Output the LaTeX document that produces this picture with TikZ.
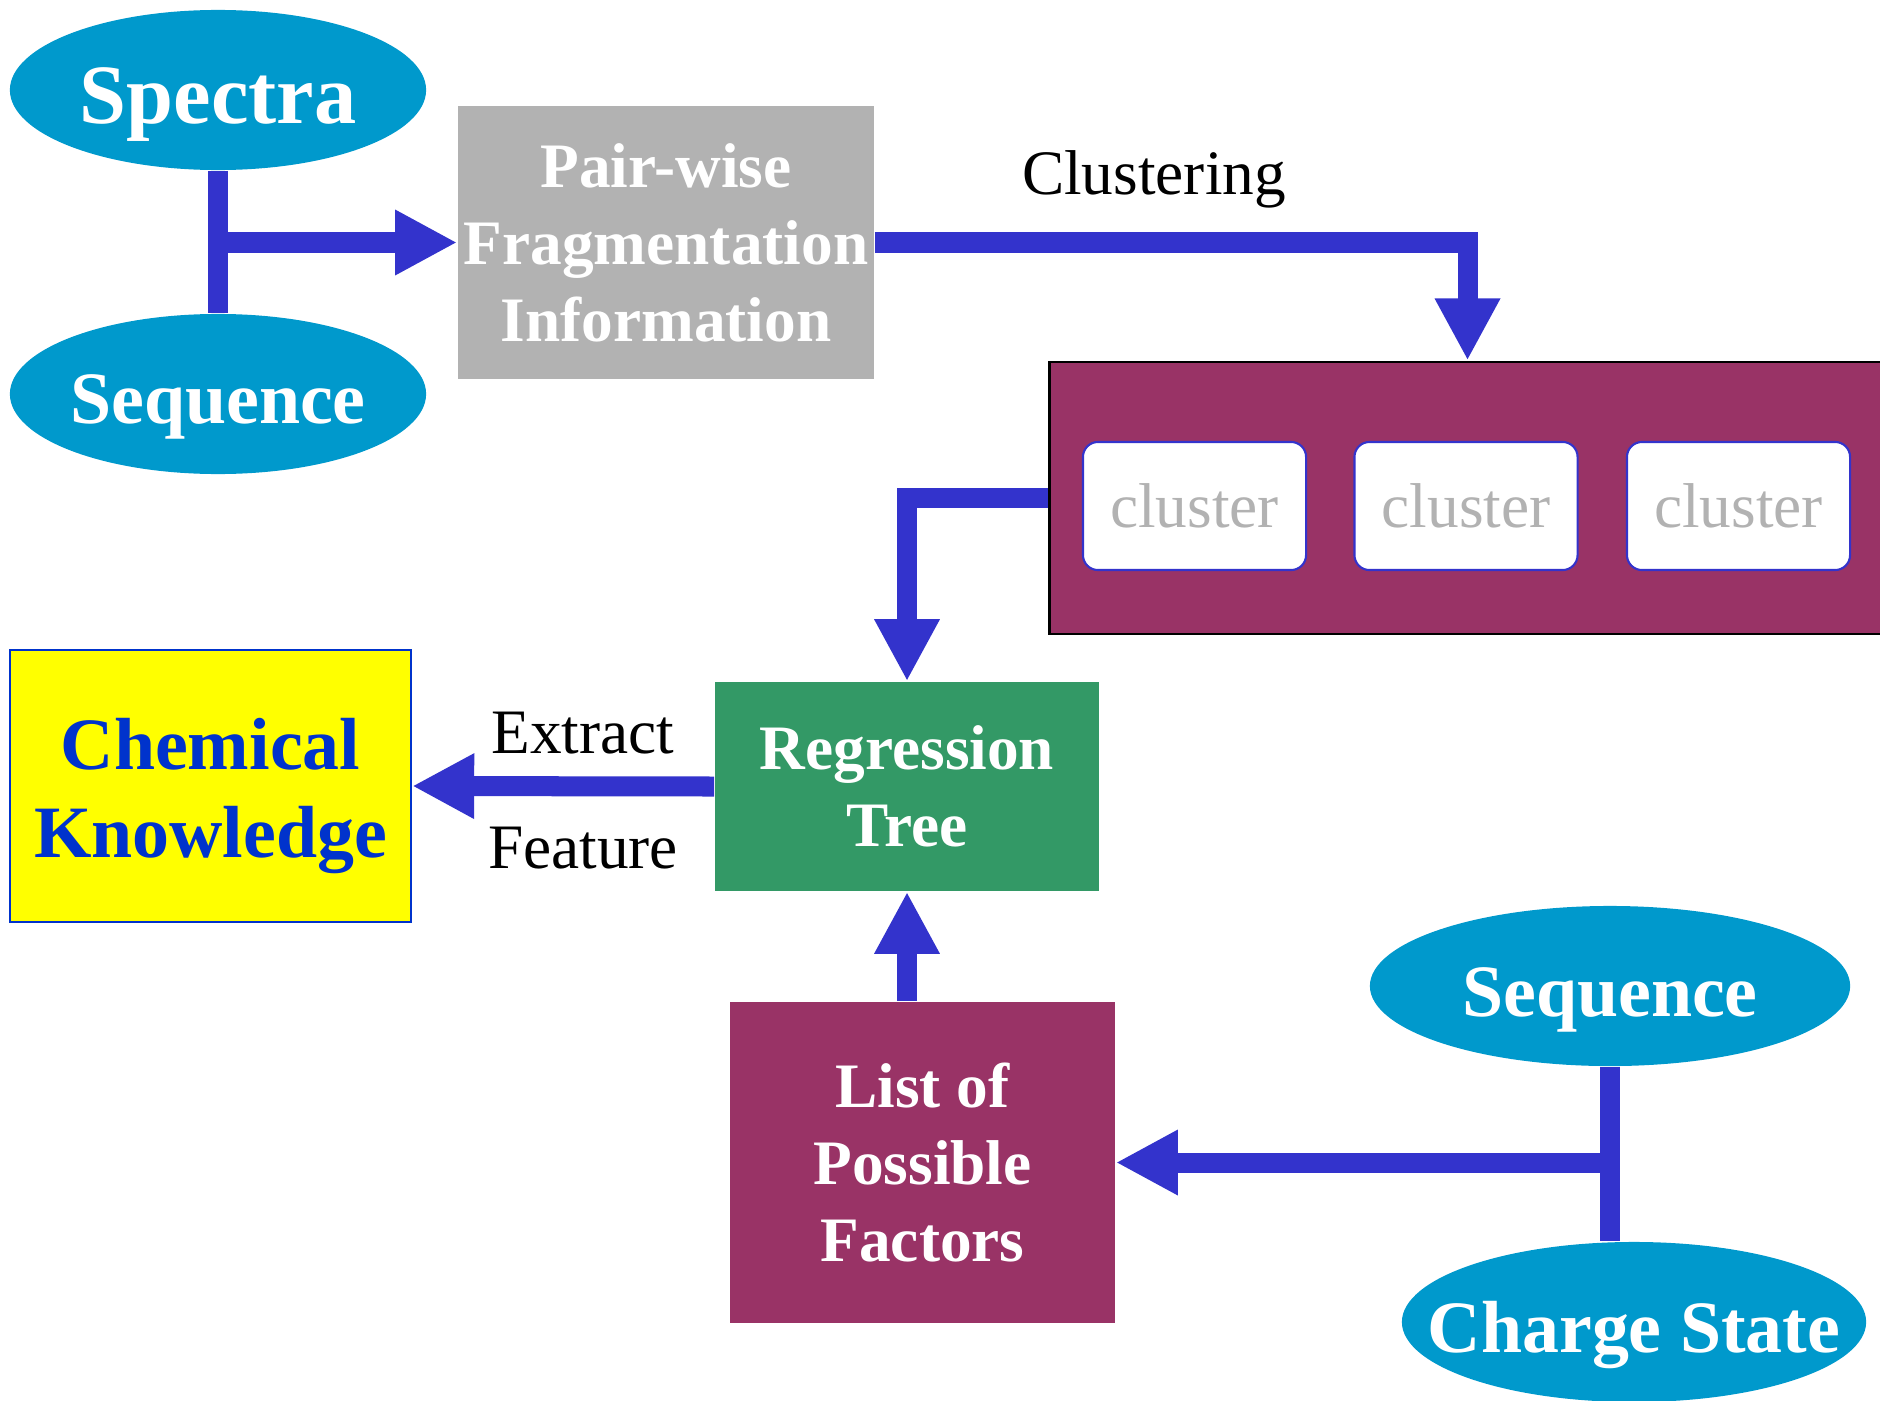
\documentclass[tikz,border=0pt]{standalone}
\usepackage{fontspec}
\setmainfont{Liberation Serif}
\usetikzlibrary{arrows.meta, shapes.geometric}

% Text of fixed zero width, so the ellipse keeps its given size
\newcommand{\flatText}[1]{\makebox[0pt]{#1}}

\begin{document}
\begin{tikzpicture}[x=0.01cm, y=-0.01cm,
    inputEllipse/.style={ellipse, fill=ellipseColour, text=white, inner sep=0pt,
        minimum height=1.6cm, text height=0.6cm, text depth=0cm,
        font=\bfseries\fontsize{21}{24}\selectfont},
    stepBox/.style={rectangle, inner sep=0pt, align=center, text=white,
        font=\bfseries\fontsize{18}{21.9}\selectfont},
    clusterBox/.style={rectangle, rounded corners=0.15cm, fill=white, draw=arrowColour,
        line width=0.6pt, minimum width=2.23cm, minimum height=1.28cm, text=greyColour,
        font=\fontsize{18}{21.9}\selectfont},
    flowLine/.style={draw=arrowColour, line width=0.2cm},
    flowArrow/.style={flowLine, -{Triangle[length=0.62cm, width=0.61cm]}},
    edgeLabel/.style={anchor=base, font=\fontsize{18}{21.9}\selectfont}]

    % Define colours
    \definecolor{arrowColour}{HTML}{3333CC}
    \definecolor{ellipseColour}{HTML}{0099CC}
    \definecolor{greyColour}{HTML}{B2B2B2}
    \definecolor{plumColour}{HTML}{993366}
    \definecolor{greenColour}{HTML}{339966}
    \definecolor{knowColour}{HTML}{0033CC}
    \definecolor{yellowColour}{HTML}{FFFF00}

    \useasboundingbox (0,0) rectangle (1880,1400);

    % Inputs on the top left
    \node[inputEllipse, minimum width=4.16cm, text height=0.66cm,
        font=\bfseries\fontsize{24}{28}\selectfont] (spectra) at (218,90) {\flatText{Spectra}};
    \node[inputEllipse, minimum width=4.16cm, text height=0.58cm] (sequenceTop) at (218,394) {\flatText{Sequence}};

    % Pair-wise information
    \node[stepBox, fill=greyColour, minimum width=4.16cm, minimum height=2.73cm] (pairwise) at (666,242.5)
        {Pair-wise\\Fragmentation\\Information};

    % Frame holding the clusters
    \node[rectangle, fill=plumColour, draw=black, line width=0.8pt, minimum width=8.35cm,
        minimum height=2.72cm] (clusterFrame) at (1467.5,498) {};
    \node[clusterBox] (clusterA) at (1194.5,506) {cluster};
    \node[clusterBox] (clusterB) at (1466,506) {cluster};
    \node[clusterBox] (clusterC) at (1738.5,506) {cluster};

    % Regression tree and knowledge
    \node[stepBox, fill=greenColour, minimum width=3.84cm, minimum height=2.09cm] (regression) at (907,786.5)
        {Regression\\Tree};
    \node[rectangle, fill=yellowColour, draw=knowColour, line width=0.6pt,
        minimum width=4.01cm, minimum height=2.72cm,
        label={[yshift=-0.1cm, align=center, text=knowColour,
            font=\bfseries\fontsize{21}{25}\selectfont]center:Chemical\\Knowledge}] (chemical) at (210.5,786) {};

    % Factors and their inputs
    \node[stepBox, fill=plumColour, minimum width=3.85cm, minimum height=3.21cm] (factors) at (922.5,1162.5)
        {List of\\Possible\\Factors};
    \node[inputEllipse, minimum width=4.8cm] (sequenceBottom) at (1610,986) {\flatText{Sequence}};
    \node[inputEllipse, minimum width=4.64cm] (chargeState) at (1634,1322) {\flatText{Charge State}};

    % Draw connectors
    \coordinate (joinLeft) at (spectra.south |- pairwise.west);
    \draw[flowLine] (spectra.south) -- (sequenceTop.north);
    \draw[flowArrow] (joinLeft) -- (pairwise.west);

    \draw[flowArrow] (pairwise.east) -| (clusterFrame.north);
    \draw[flowArrow] (clusterFrame.west) -| (regression.north);
    \draw[flowArrow] (regression.west) -- (chemical.east);
    \draw[flowArrow] (factors.north -| regression.south) -- (regression.south);

    \coordinate (joinRight) at (sequenceBottom.south |- factors.east);
    \draw[flowLine] (sequenceBottom.south) -- (sequenceBottom.south |- chargeState.north);
    \draw[flowArrow] (joinRight) -- (factors.east);

    % Labels on the connectors
    \node[edgeLabel] (clusteringLabel) at (1154,194) {Clustering};
    \node[edgeLabel] (extractLabel) at (583,753) {Extract};
    \node[edgeLabel] (featureLabel) at (583,868) {Feature};

\end{tikzpicture}
\end{document}
